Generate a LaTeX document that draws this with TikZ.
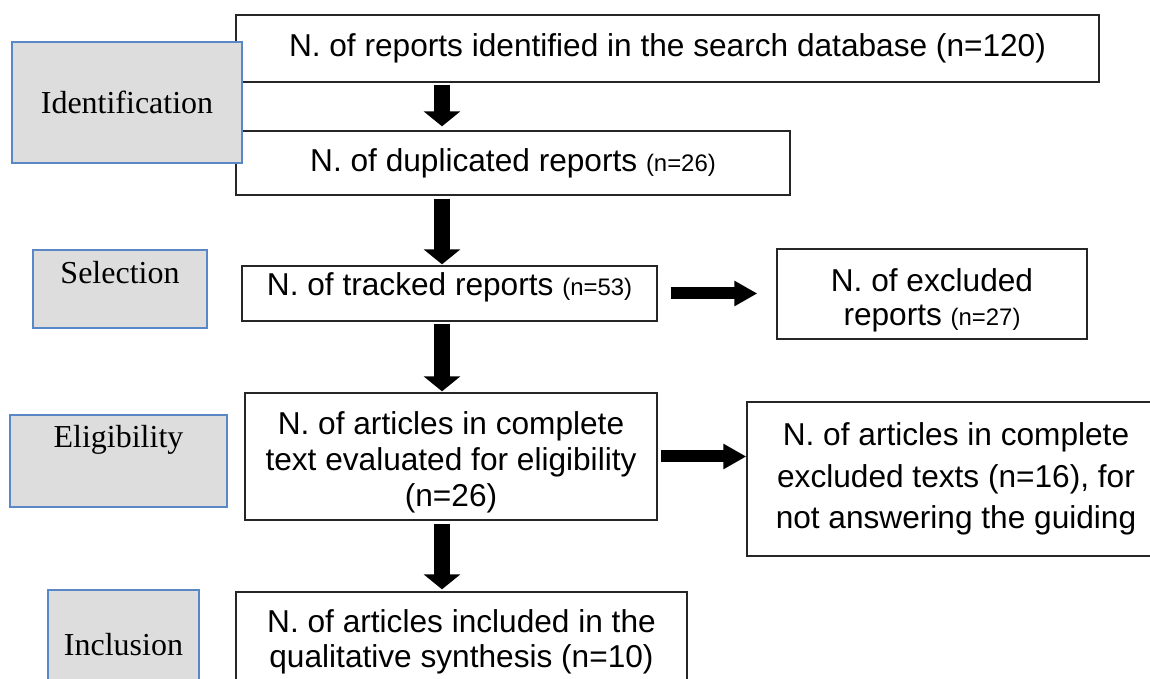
\documentclass[tikz,border=0pt]{standalone}
\usepackage{fontspec}
\setmainfont{Liberation Serif}
\setsansfont{Liberation Sans}
\usepackage{xcolor}
\definecolor{etapeFond}{HTML}{DDDDDD}
\definecolor{etapeBord}{HTML}{5A87C6}
\definecolor{boiteBord}{HTML}{262626}
\usepackage{tikz}
\usetikzlibrary{arrows.meta}
\newcommand{\petitN}[1]{{\fontsize{13.6}{15}\selectfont #1}}
\tikzset{
  %% ── Boites ───────────────────────────────────────────────────────────
  boite/.style        = {draw=boiteBord, line width=0.75pt, fill=white,
                         align=center, inner sep=0pt,
                         font=\sffamily\fontsize{18}{20.4}\selectfont},
  boiteEtape/.style   = {draw=etapeBord, line width=0.85pt, fill=etapeFond,
                         inner sep=0pt, font=\rmfamily\fontsize{18.2}{21}\selectfont},
  %%
  %% ── Fleches ──────────────────────────────────────────────────────────
  grosseFleche/.style = {-{Triangle[length=0.3cm, width=0.72cm]},
                         draw=black, line width=0.32cm},
  flecheLaterale/.style = {-{Triangle[length=0.46cm, width=0.48cm]},
                         draw=black, line width=0.24cm},
}

\begin{document}
\begin{tikzpicture}[x=1cm, y=1cm]

\useasboundingbox (0, 0) rectangle (23, -13.58);
\clip (0, 0) rectangle (23, -13.58);

%% Le flux principal, de l'identification a l'inclusion.
\node[boite, minimum width=17.26cm, minimum height=1.34cm] (rep) at (13.35, -0.97)
     {N. of reports identified in the search database (n=120)};
\node[boite, minimum width=11.08cm, minimum height=1.28cm] (dup) at (10.26, -3.26)
     {N. of duplicated reports \petitN{(n=26)}};
\node[boite, minimum width=8.30cm, minimum height=1.10cm, text depth=0.39cm] (trk)
     at (8.99, -5.87) {N. of tracked reports \petitN{(n=53)}};
\node[boite, minimum width=8.24cm, minimum height=2.54cm, text height=2.13cm] (art)
     at (9.02, -9.13)
     {N. of articles in complete\\text evaluated for eligibility\\(n=26)};
\node[boite, minimum width=9.02cm, minimum height=2.00cm,
      font=\sffamily\fontsize{18}{19.8}\selectfont] (incd) at (9.23, -12.84)
     {N. of articles included in the\\qualitative synthesis (n=10)};

%% Les exclusions, a droite.
\node[boite, minimum width=6.20cm, minimum height=1.80cm, text height=1.38cm,
      font=\sffamily\fontsize{18}{19.3}\selectfont] (excl) at (18.64, -5.88)
     {N. of excluded\\reports \petitN{(n=27)}};
\node[boite, minimum width=8.36cm, minimum height=3.08cm,
      font=\sffamily\fontsize{18}{23.8}\selectfont] (exc2) at (19.12, -9.58)
     {N. of articles in complete\\excluded texts (n=16), for\\not answering the guiding};

%% Les etapes, posees par-dessus.
\node[boiteEtape, minimum width=4.60cm, minimum height=2.42cm] (ident) at (2.54, -2.05)
     {Identification};
\node[boiteEtape, minimum width=3.48cm, minimum height=1.56cm, text depth=0.68cm]
     (sel) at (2.40, -5.78) {Selection};
\node[boiteEtape, minimum width=4.34cm, minimum height=1.84cm, text depth=1.0cm]
     (elig) at (2.37, -9.22) {Eligibility};
\node[boiteEtape, minimum width=3.02cm, minimum height=2.20cm] (incl) at (2.47, -12.90)
     {Inclusion};

%% Les fleches.
\coordinate (axe) at (8.84, 0);
\draw[grosseFleche] ([yshift=-0.04cm]rep.south -| axe) -- ([yshift=0.08cm]dup.north -| axe);
\draw[grosseFleche] ([yshift=-0.06cm]dup.south -| axe) -- ([yshift=0.02cm]trk.north -| axe);
\draw[grosseFleche] ([yshift=-0.04cm]trk.south -| axe) -- ([yshift=0.02cm]art.north -| axe);
\draw[grosseFleche] ([yshift=-0.06cm]art.south -| axe) -- ([yshift=0.04cm]incd.north -| axe);

\draw[flecheLaterale, shorten <=0.26cm, shorten >=0.38cm] (trk.east) -- (trk.east -| excl.west);
\draw[flecheLaterale, shorten <=0.06cm] (art.east) -- (art.east -| exc2.west);

\end{tikzpicture}
\end{document}
